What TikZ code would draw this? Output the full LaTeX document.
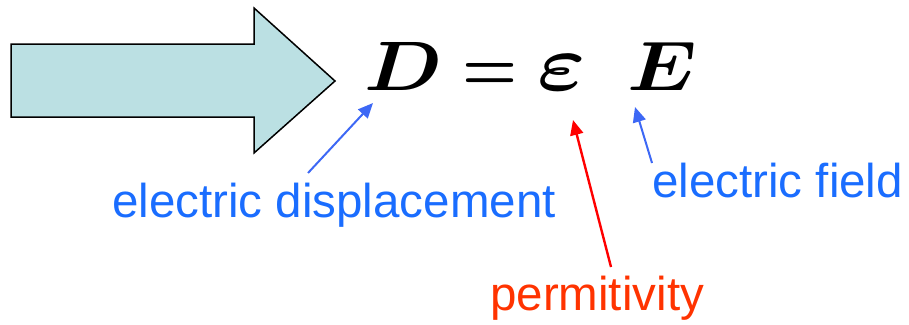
\RequirePackage{fix-cm}
\documentclass[tikz,border=0pt]{standalone}
\usepackage{amsmath,amssymb}
\usepackage{graphicx}
\usepackage[no-math]{fontspec}
\setmainfont{Liberation Serif}
\setsansfont{Liberation Sans}
\usetikzlibrary{arrows.meta}

\definecolor{arrowfill}{HTML}{BBE0E3}
\definecolor{lblblue}{HTML}{1A6DFF}
\definecolor{arrblue}{HTML}{3D68F5}
\definecolor{lblred}{HTML}{FF3300}
\definecolor{arrred}{HTML}{FF0000}

\begin{document}
\begin{tikzpicture}[
  x=1pt,y=-1pt,
  bigarrow/.style={draw=black,line width=1.5pt,fill=arrowfill,line join=miter},
  eqsym/.style={inner sep=0pt,anchor=base west,font=\fontsize{70}{74}\selectfont},
  lbl/.style={inner sep=0pt,anchor=base west,font=\sffamily\fontsize{47.5}{52}\selectfont},
  bluearr/.style={-{Triangle[length=15pt,width=13pt]},line width=2pt,arrblue},
  redarr/.style={-{Triangle[length=15pt,width=13pt]},line width=2.4pt,arrred}
]
\useasboundingbox (0,0) rectangle (909,324);
% block arrow on the left
\draw[bigarrow] (11,44) -- (254,44) -- (254,8) -- (335,81) -- (254,153)
  -- (254,117) -- (11,117) -- cycle;
% the equation
\node[eqsym] (symD) at (364,90) {\scalebox{1.15}[1]{$\boldsymbol{D}$}};
\node[eqsym] (symEq) at (462,90) {\scalebox{0.9}[1]{$\boldsymbol{=}$}};
\node[eqsym,font=\fontsize{80}{84}\selectfont] (symEps) at (537,90)
  {\scalebox{1.15}[1]{$\boldsymbol{\varepsilon}$}};
\node[eqsym] (symE) at (627,90) {\scalebox{1.15}[1]{$\boldsymbol{E}$}};
% labels
\node[lbl,text=lblblue] (disp) at (112,217) {electric displacement};
\node[lbl,text=lblblue] (field) at (652,197) {electric field};
\node[lbl,text=lblred] (perm) at (490,310) {permitivity};
\coordinate (tailD) at (308,173);
\coordinate (tipD) at (373,103);
\coordinate (tailEps) at (611,267);
\coordinate (tipEps) at (573,120);
\coordinate (tailE) at (652,163);
\coordinate (tipE) at (635,107);
\draw[bluearr] (tailD) -- (tipD);
\draw[redarr] (tailEps) -- (tipEps);
\draw[bluearr] (tailE) -- (tipE);
\end{tikzpicture}
\end{document}
